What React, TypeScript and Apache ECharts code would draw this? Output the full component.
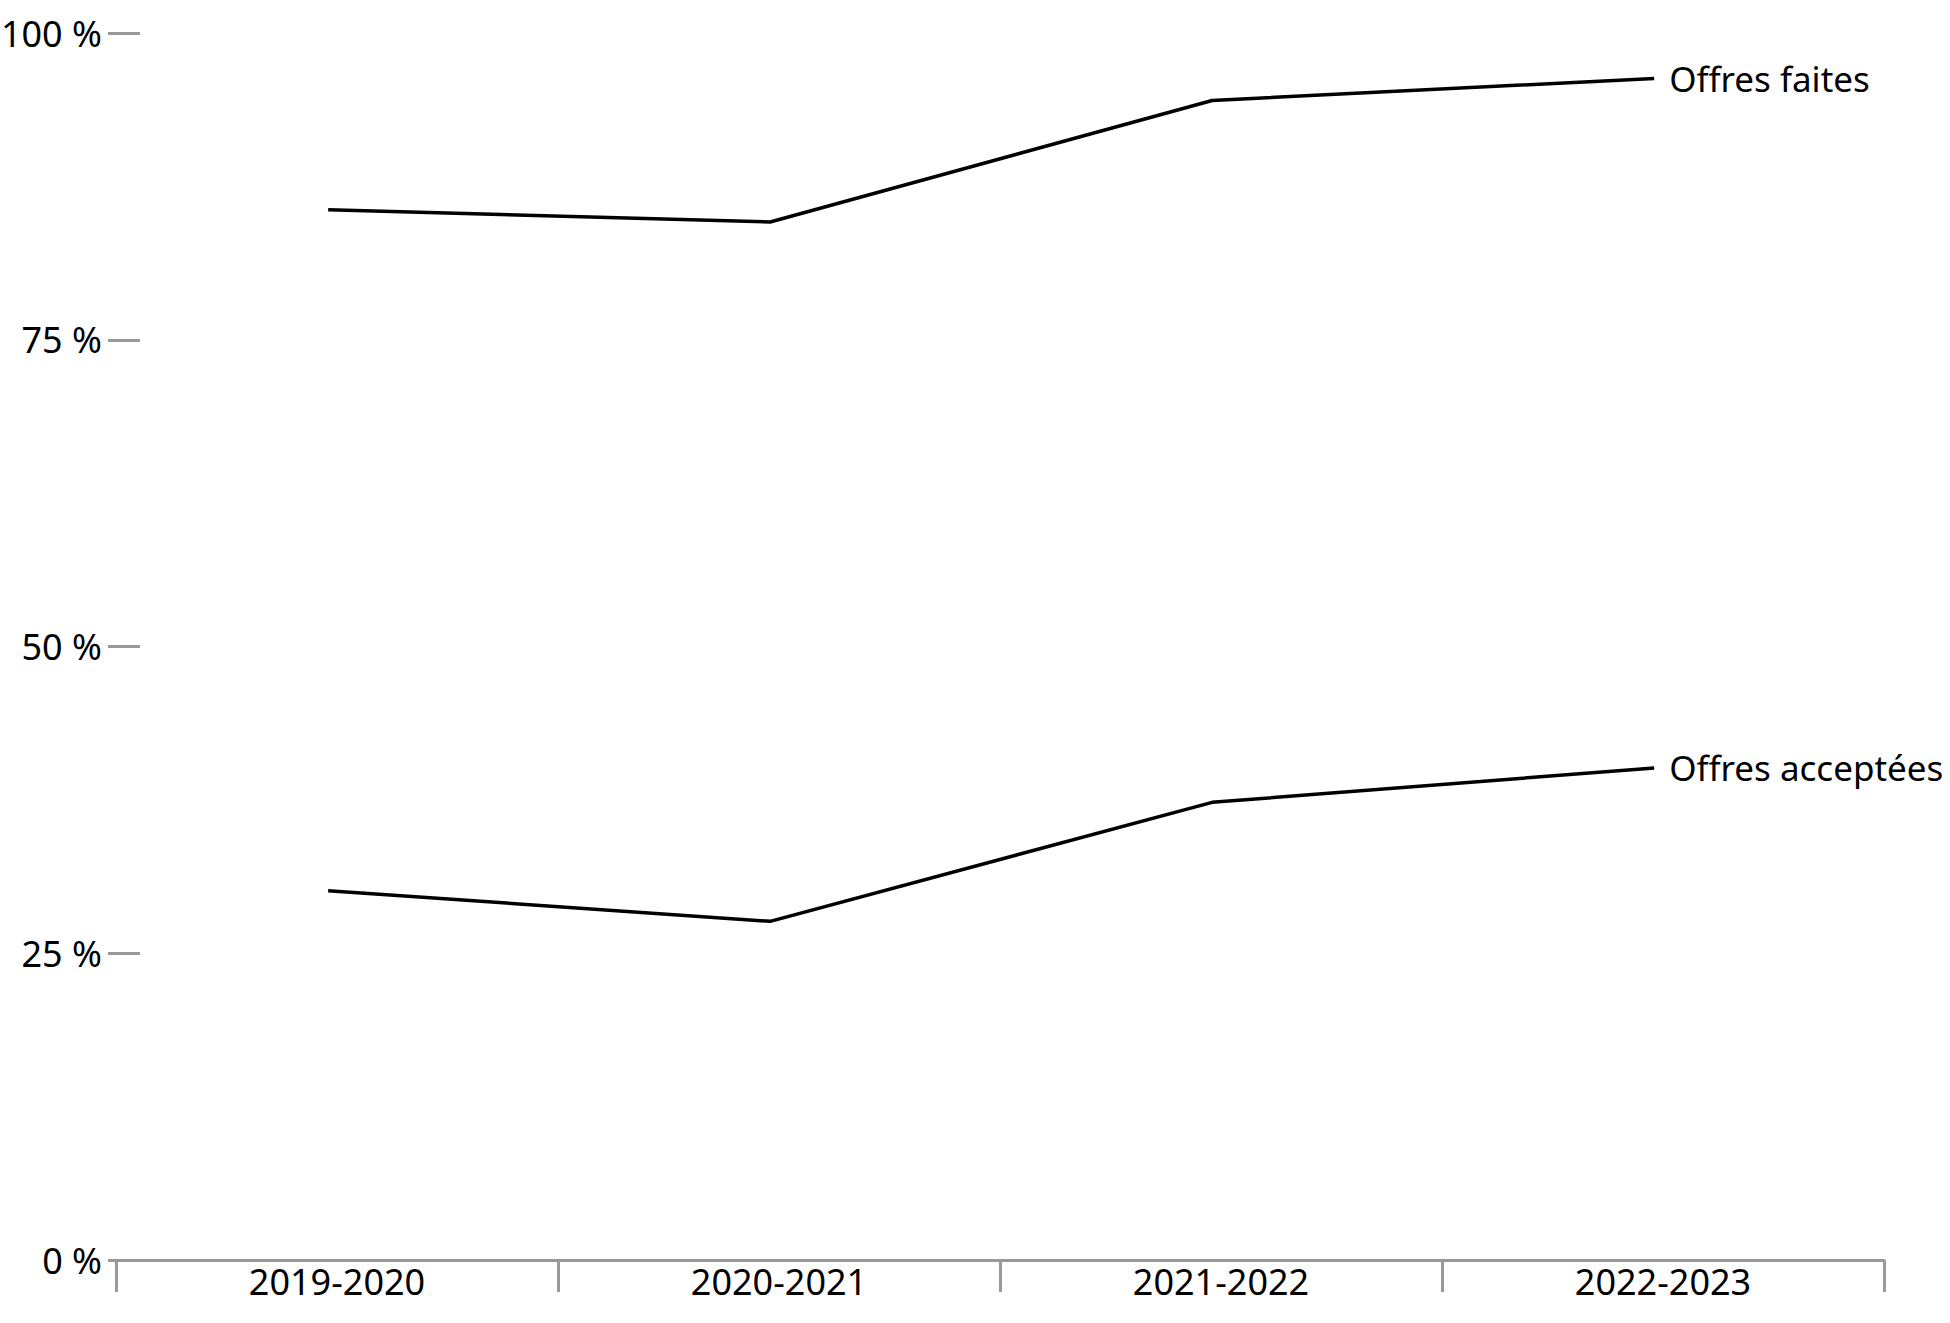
import React, { useEffect, useRef } from "react";
import * as echarts from "echarts";

const categories = ["2019-2020", "2020-2021", "2021-2022", "2022-2023"];
const offresFaites = [85.6, 84.6, 94.5, 96.3];
const offresAcceptees = [30.1, 27.6, 37.3, 40.1];
const seriesNames = ["Offres faites", "Offres acceptées"];

const FONT = "Noto Sans";
const FS_END = 35;
const FS_AXIS = 36;

export default function App() {
  const ref = useRef<HTMLDivElement>(null);
  useEffect(() => {
    if (!ref.current) return;
    const chart = echarts.init(ref.current, null, { renderer: "svg" });
    const lineSeries = (name: string, data: number[]) => ({
      name,
      type: "line",
      xAxisIndex: 1,
      data: data.map((v, i) => [i, v]),
      symbol: "none",
      lineStyle: { color: "#000", width: 3.5 },
      endLabel: {
        show: true,
        formatter: "{a}",
        distance: 15,
        color: "#000",
        fontFamily: FONT,
        fontSize: FS_END,
      },
    });
    chart.setOption({
      animation: false,
      backgroundColor: "#fff",
      textStyle: { fontFamily: FONT },
      grid: {
        left: 116,
        right: 66,
        top: 33,
        bottom: 63,
        containLabel: false,
        outerBoundsMode: "none",
      },
      xAxis: [
        {
          type: "category",
          data: categories,
          boundaryGap: true,
          axisLine: { show: true, onZero: false, lineStyle: { color: "#999", width: 3 } },
          axisTick: { show: true, length: 32, lineStyle: { color: "#999", width: 3 } },
          axisLabel: { color: "#000", fontFamily: FONT, fontSize: FS_AXIS, margin: 3 },
          splitLine: { show: false },
        },
        {
          type: "value",
          min: -0.48,
          max: 3.52,
          show: false,
          axisLine: { onZero: false },
        },
      ],
      yAxis: {
        type: "value",
        min: 0,
        max: 100,
        interval: 25,
        offset: -24,
        axisLine: { show: false, onZero: false },
        axisTick: { show: true, length: 32, lineStyle: { color: "#999", width: 3 } },
        axisLabel: {
          color: "#000",
          fontFamily: FONT,
          fontSize: FS_AXIS,
          margin: 38,
          formatter: "{value} %",
        },
        splitLine: { show: false },
      },
      series: [
        lineSeries(seriesNames[0], offresFaites),
        lineSeries(seriesNames[1], offresAcceptees),
      ],
    });
    return () => chart.dispose();
  }, []);
  return (
    <div
      ref={ref}
      style={{ position: "fixed", left: 0, top: 0, width: 1950, height: 1323 }}
    />
  );
}
